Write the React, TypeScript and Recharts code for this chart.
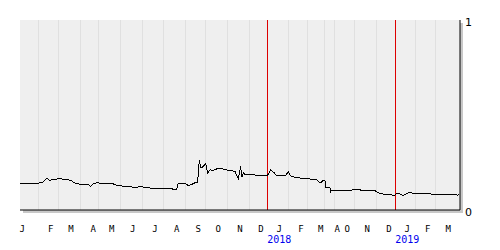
import React from "react";
import { LineChart, Line, XAxis, YAxis, CartesianGrid, ReferenceLine } from "recharts";

// x = trading-day index since start of series, value = price
const dayIndex = [
  0, 19, 20, 21.7, 24, 26.7, 30, 33.3, 35, 38.3, 41.7, 46.7, 51.7, 53.3, 56.7, 63.3, 68.3, 70.7, 73.3, 77.3,
  81.7, 88.3, 93, 95, 100, 105, 110, 115, 120, 126.7, 135, 143, 148.3, 156.7, 158.3, 165, 168.3, 171.7, 175.7, 177.7,
  178.3, 179.3, 181, 183.3, 185.7, 187.7, 190, 193.3, 196.7, 201.7, 205, 210, 215, 216.7, 218.3, 220.7, 221.7, 223.3, 225, 228.3,
  233, 240, 246.7, 248, 250.7, 253.3, 256.7, 261.7, 265, 268.3, 270.7, 275, 280, 285, 287.3, 291.7, 297, 299.3, 301.7, 303.3,
  305, 305.7, 310, 310.7, 311.7, 316.7, 325, 338.3, 340.7, 345, 355, 358.3, 363.3, 370, 374.3, 376.7, 380, 383.3, 386.7, 390,
  393.3, 398.3, 405, 411.7, 418, 425, 430, 436, 437.7, 438.3,
];
const values = [
  0.142, 0.142, 0.147, 0.142, 0.153, 0.166, 0.156, 0.163, 0.159, 0.166, 0.163, 0.159, 0.156, 0.145, 0.138, 0.135, 0.135, 0.124, 0.138, 0.145,
  0.138, 0.142, 0.138, 0.132, 0.128, 0.124, 0.124, 0.117, 0.124, 0.117, 0.114, 0.114, 0.114, 0.107, 0.142, 0.142, 0.128, 0.135, 0.145, 0.145,
  0.195, 0.261, 0.221, 0.229, 0.244, 0.195, 0.212, 0.208, 0.216, 0.219, 0.212, 0.208, 0.203, 0.182, 0.165, 0.229, 0.172, 0.195, 0.186, 0.189,
  0.186, 0.179, 0.179, 0.186, 0.212, 0.2, 0.182, 0.179, 0.179, 0.2, 0.179, 0.172, 0.168, 0.165, 0.168, 0.161, 0.158, 0.144, 0.147, 0.158,
  0.154, 0.116, 0.116, 0.095, 0.105, 0.105, 0.102, 0.108, 0.105, 0.102, 0.102, 0.091, 0.084, 0.081, 0.077, 0.087, 0.084, 0.077, 0.087, 0.095,
  0.087, 0.087, 0.087, 0.084, 0.084, 0.084, 0.081, 0.081, 0.077, 0.084,
];

const monthBoundaries = [18.7, 38.7, 60.3, 78.7, 100.3, 122.7, 143.7, 165.7, 185.7, 207.7, 229, 268.7, 287.7, 304.7, 314.3, 334.7, 356.7, 395.7, 415.7];
const yearBoundaries = [247.3, 375.3];

const monthTickPos = [2.3, 30.7, 51, 73.3, 91.7, 112.7, 135, 156.7, 178.3, 198.3, 220, 241, 259.3, 281, 300.7, 317.3, 327.3, 347.3, 369, 387.3, 407.7, 428.3];
const monthLetters = ["J", "F", "M", "A", "M", "J", "J", "A", "S", "O", "N", "D", "J", "F", "M", "A", "O", "N", "D", "J", "F", "M"];
const yearTickPos = [259.3, 387.3];
const yearLabels = ["2018", "2019"];

const yTicks = [0, 1];

const data = dayIndex.map((d, i) => ({ d, v: values[i] }));

const MonthTick = (props: any) => {
  const { x, y, payload } = props;
  const idx = monthTickPos.indexOf(payload.value);
  const yi = yearTickPos.indexOf(payload.value);
  return (
    <g>
      <text x={x} y={y + 17} textAnchor="middle" dominantBaseline="central" fontSize={9} fontFamily="DejaVu Sans Mono" fill="#000">
        {monthLetters[idx]}
      </text>
      {yi >= 0 && (
        <text x={x} y={y + 27} textAnchor="middle" dominantBaseline="central" fontSize={10} fontFamily="DejaVu Sans Mono" fill="#0000ee">
          {yearLabels[yi]}
        </text>
      )}
    </g>
  );
};

const ValueTick = (props: any) => {
  const { x, y, payload } = props;
  return (
    <text x={x + 3} y={y + 2} textAnchor="start" dominantBaseline="central" fontSize={11} fontFamily="DejaVu Sans" fill="#000">
      {payload.value}
    </text>
  );
};

export default function App() {
  return (
    <div style={{ position: "absolute", left: 0, top: 0, width: 500, height: 250, background: "#fff" }}>
      <div style={{ position: "absolute", left: 23, top: 23, width: 440, height: 190, background: "#c8c8c8" }} />
      <div style={{ position: "absolute", left: 0, top: 0 }}>
        <LineChart width={500} height={250} data={data} margin={{ top: 20, right: 0, bottom: 0, left: 20 }}>
          <CartesianGrid fill="#efefef" horizontal={false} vertical={false} stroke="none" />
          <XAxis
            dataKey="d"
            type="number"
            domain={[0, 440]}
            ticks={monthTickPos}
            interval={0}
            tick={<MonthTick />}
            tickLine={false}
            tickSize={0}
            axisLine={{ stroke: "#000" }}
            height={40}
            allowDataOverflow
          />
          <XAxis xAxisId="top" orientation="top" dataKey="d" type="number" domain={[0, 440]} tick={false} tickLine={false} axisLine={{ stroke: "#000" }} height={0} />
          <YAxis yAxisId="left" orientation="left" domain={[0, 1]} tick={false} tickLine={false} axisLine={{ stroke: "#000" }} width={0} />
          <YAxis
            orientation="right"
            domain={[0, 1]}
            ticks={yTicks}
            tick={<ValueTick />}
            tickLine={false}
            tickSize={0}
            axisLine={{ stroke: "#000" }}
            width={40}
          />
          {monthBoundaries.map((g) => (
            <ReferenceLine key={"m" + g} x={g} stroke="#e0e0e0" strokeWidth={1} shapeRendering="crispEdges" />
          ))}
          {yearBoundaries.map((g) => (
            <ReferenceLine key={"y" + g} x={g} stroke="#dd0000" strokeWidth={1} shapeRendering="crispEdges" />
          ))}
          <Line
            dataKey="v"
            type="linear"
            stroke="#000"
            strokeWidth={1}
            dot={false}
            isAnimationActive={false}
            shapeRendering="crispEdges"
            zIndex={1000}
          />
        </LineChart>
      </div>
    </div>
  );
}
